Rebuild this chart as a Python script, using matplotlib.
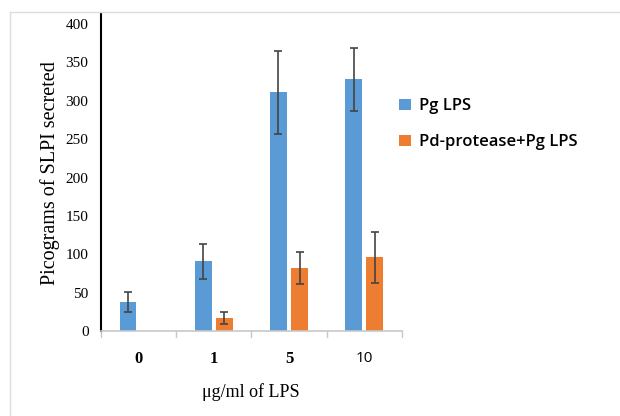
import matplotlib.pyplot as plt
import numpy as np
from matplotlib.lines import Line2D

# datos
categorias = ["0", "1", "5", "10"]
pg_lps = [38, 91, 311, 328]
pg_lps_err = [13, 23, 54, 41]
pd_pg_lps = [0, 17, 82, 96]
pd_pg_lps_err = [0, 8, 21, 33]
series = ["Pg LPS", "Pd-protease+Pg LPS"]

azul = "#5B9BD5"
naranja = "#ED7D31"

fig = plt.figure(figsize=(6.2, 4.16), dpi=100)
ax = fig.add_axes([0.163, 0.204, 0.485, 0.762])

x = np.arange(len(categorias))
ancho = 0.22
ek = dict(ecolor="#444444", elinewidth=1.2, capsize=3, capthick=1.2)
ax.bar(x - 0.14, pg_lps, ancho, color=azul, yerr=pg_lps_err, error_kw=ek, label=series[0])
err_n = [e if v > 0 else np.nan for v, e in zip(pd_pg_lps, pd_pg_lps_err)]
ax.bar(x + 0.14, pd_pg_lps, ancho, color=naranja, yerr=err_n, error_kw=ek, label=series[1])

ax.set_xlim(-0.5, len(categorias) - 0.5)
ax.set_ylim(0, 413)
ax.set_yticks(np.arange(0, 401, 50))
ax.tick_params(axis="y", length=0, pad=9, labelsize=11)
for t in ax.get_yticklabels():
    t.set_fontfamily("Liberation Serif")

ax.set_xticks(x)
ax.set_xticklabels(categorias, fontsize=12)
for t in ax.get_xticklabels():
    t.set_fontfamily("Liberation Serif")
    t.set_fontweight("bold")
ax.get_xticklabels()[3].set_fontfamily("Open Sans")
ax.get_xticklabels()[3].set_fontweight("normal")
ax.get_xticklabels()[3].set_fontsize(11)
ax.tick_params(axis="x", length=0, pad=14)
# marcas entre categorias
for xb in np.arange(-0.5, len(categorias), 1.0):
    ax.plot([xb, xb], [0, -7], color="#C8C8C8", lw=1, clip_on=False)

for s in ["top", "right"]:
    ax.spines[s].set_visible(False)
ax.spines["left"].set_color("black")
ax.spines["left"].set_linewidth(1.5)
ax.spines["bottom"].set_color("#C8C8C8")
ax.spines["bottom"].set_linewidth(1.2)

ax.set_ylabel("Picograms of SLPI secreted", fontsize=14.5, family="Liberation Serif", labelpad=4)
fig.text(0.404, 0.057, "μg/ml of LPS", fontsize=13, family="Liberation Serif", ha="center", va="center")

ax.legend(loc="upper left", bbox_to_anchor=(0.62, 0.80), bbox_transform=fig.transFigure,
          frameon=False, handlelength=0.7, handleheight=0.7, handletextpad=0.45, labelspacing=1.2,
          prop={"family": "Open Sans", "size": 12, "weight": "semibold"})

# marco de la imagen
fig.add_artist(Line2D([0.016, 1.0], [0.971, 0.971], color="#DDDDDD", lw=1))
fig.add_artist(Line2D([0.016, 0.016], [0.0, 0.971], color="#DDDDDD", lw=1))

plt.savefig("out.png", dpi=100)
